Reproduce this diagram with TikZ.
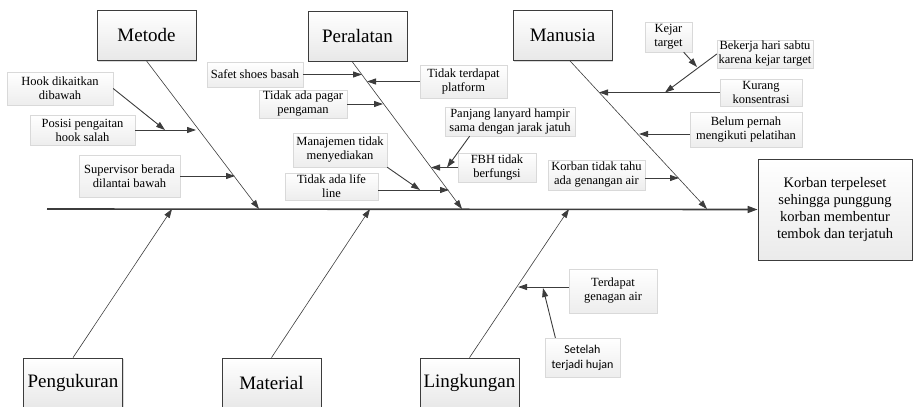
\documentclass[tikz,border=0pt]{standalone}
\usepackage{fontspec}
\setmainfont{Liberation Serif}
\newfontfamily\carlitofont{Carlito}
\usetikzlibrary{arrows.meta,shadows}
\definecolor{linegray}{HTML}{3C3C3C}
\tikzset{
  kategori/.style={draw=linegray,line width=0.8pt,top color=white,bottom color=gray!18,
    minimum width=99pt,minimum height=50pt,inner sep=2pt,
    font=\rmfamily\fontsize{19}{21}\selectfont,
    drop shadow={shadow xshift=1.3pt,shadow yshift=-1.3pt,opacity=.3}},
  sebab/.style={draw=gray!30,line width=0.4pt,top color=white,bottom color=gray!14,
    inner sep=1pt,align=center,font=\rmfamily\fontsize{12.5}{14}\selectfont,
    drop shadow={shadow xshift=1.2pt,shadow yshift=-1.2pt,opacity=.18}},
  akibat/.style={draw=linegray,line width=0.8pt,top color=white,bottom color=gray!16,
    minimum width=154pt,minimum height=101pt,align=center,
    font=\rmfamily\fontsize{14.5}{17}\selectfont,
    drop shadow={shadow xshift=1.3pt,shadow yshift=-1.3pt,opacity=.3}},
  tulang/.style={draw=linegray,line width=0.6pt,-{Triangle[length=9pt,width=6pt]}},
  panah/.style={draw=linegray,line width=0.9pt,-{Triangle[length=9pt,width=6pt]}},
}
\begin{document}
\begin{tikzpicture}[x=1pt,y=-1pt]
\useasboundingbox (0,0) rectangle (914,407);
\node[kategori] (metode) at (146.5,35.5) {Metode};
\node[kategori] (peralatan) at (357.5,36) {Peralatan};
\node[kategori] (manusia) at (562.5,35.5) {Manusia};
\node[kategori] (pengukuran) at (73,383) {Pengukuran};
\node[kategori] (material) at (271.5,383) {Material};
\node[kategori] (lingkungan) at (469.5,383) {Lingkungan};
\node[akibat] (akibat) at (835,209.5) {Korban terpeleset\\sehingga punggung\\korban membentur\\tembok dan terjatuh};
\coordinate (spinestart) at (47,209);
\coordinate (metodetip) at (259,209);
\coordinate (peralatantip) at (462,209);
\coordinate (manusiatip) at (707,209);
\coordinate (pengukurantip) at (172,209);
\coordinate (materialtip) at (370,209);
\coordinate (lingkungantip) at (569,209);
\draw[linegray,line width=1.6pt,-{Triangle[length=10pt,width=7pt]}] (spinestart) -- (akibat.west);
\draw[tulang] (metode.south) -- (metodetip);
\draw[tulang] ([xshift=-5.5pt]peralatan.south) -- (peralatantip);
\draw[tulang] ([xshift=7.5pt]manusia.south) -- (manusiatip);
\draw[tulang] (pengukuran.north) -- (pengukurantip);
\draw[tulang] (material.north) -- (materialtip);
\draw[tulang] (lingkungan.north) -- (lingkungantip);
\node[sebab,minimum width=106pt,minimum height=33pt] (hook) at (60,88.5) {Hook dikaitkan\\dibawah};
\node[sebab,minimum width=105pt,minimum height=30pt] (posisi) at (82.5,130) {Posisi pengaitan\\hook salah};
\node[sebab,minimum width=101pt,minimum height=42pt] (supervisor) at (129.5,176) {Supervisor berada\\dilantai bawah};
\coordinate (hooktip) at (165,130);
\coordinate (posisitip) at (196,130);
\coordinate (supervisortip) at (235,176);
\draw[panah] (hook.east) -- (hooktip);
\draw[panah] (posisi.east) -- (posisitip);
\draw[panah] (supervisor.east) -- (supervisortip);
\node[sebab,minimum width=96pt,minimum height=25pt] (safet) at (255,74.5) {Safet shoes basah};
\node[sebab,minimum width=87pt,minimum height=33pt] (platform) at (463.5,81.5) {Tidak terdapat\\platform};
\node[sebab,minimum width=88pt,minimum height=28pt] (pagar) at (303,104) {Tidak ada pagar\\pengaman};
\node[sebab,minimum width=94pt,minimum height=34pt] (manajemen) at (340,150) {Manajemen tidak\\menyediakan};
\node[sebab,minimum width=93pt,minimum height=27pt] (lifeline) at (331.5,186.5) {Tidak ada life\\line};
\node[sebab,minimum width=130pt,minimum height=29pt] (panjang) at (510,121.5) {Panjang lanyard hampir\\sama dengan jarak jatuh};
\node[sebab,minimum width=78pt,minimum height=29pt] (fbh) at (497,167.5) {FBH tidak\\berfungsi};
\coordinate (safettip) at (362,74.5);
\coordinate (platformtip) at (367,81.5);
\coordinate (pagartip) at (383,104);
\coordinate (lifetip) at (449,190);
\coordinate (manajementip) at (420,190);
\coordinate (fbhtip) at (431,167.5);
\coordinate (panjangtip) at (447,167.5);
\draw[panah] (safet.east) -- (safettip);
\draw[panah] (platform.west) -- (platformtip);
\draw[panah] (pagar.east) -- (pagartip);
\draw[panah] (lifeline.east |- lifetip) -- (lifetip);
\draw[panah] (manajemen.south east) -- (manajementip);
\draw[panah] (fbh.west) -- (fbhtip);
\draw[panah] (panjang.200) -- (panjangtip);
\node[sebab,minimum width=47pt,minimum height=30pt] (kejar) at (668.5,37) {Kejar\\target};
\node[sebab,minimum width=96pt,minimum height=28pt] (bekerja) at (765,54) {Bekerja hari sabtu\\karena kejar target};
\node[sebab,minimum width=82pt,minimum height=27pt] (kurang) at (761,92.5) {Kurang\\konsentrasi};
\node[sebab,minimum width=112pt,minimum height=35pt] (belum) at (746,129.5) {Belum pernah\\mengikuti pelatihan};
\node[sebab,minimum width=97pt,minimum height=30pt] (korban) at (596.5,175) {Korban tidak tahu\\ada genangan air};
\coordinate (kejartip) at (697,67);
\coordinate (bekerjatip) at (665,92.5);
\coordinate (kurangtip) at (599,92.5);
\coordinate (belumtip) at (639,134);
\coordinate (korbantip) at (679,178);
\draw[panah] (kejar.-45) -- (kejartip);
\draw[panah] (bekerja.west) -- (bekerjatip);
\draw[panah] (kurang.west) -- (kurangtip);
\draw[panah] (belum.west |- belumtip) -- (belumtip);
\draw[panah] (korban.east |- korbantip) -- (korbantip);
\node[sebab,minimum width=88pt,minimum height=44pt] (terdapat) at (613,291) {Terdapat\\genagan air};
\node[sebab,minimum width=75pt,minimum height=39pt,font=\carlitofont\fontsize{12}{15}\selectfont] (setelah) at (582.5,357.5) {Setelah\\terjadi hujan};
\coordinate (terdapattip) at (518,287);
\coordinate (setelahtip) at (543,288);
\draw[panah] (terdapat.west |- terdapattip) -- (terdapattip);
\draw[panah] (setelah.144) -- (setelahtip);
\end{tikzpicture}
\end{document}
